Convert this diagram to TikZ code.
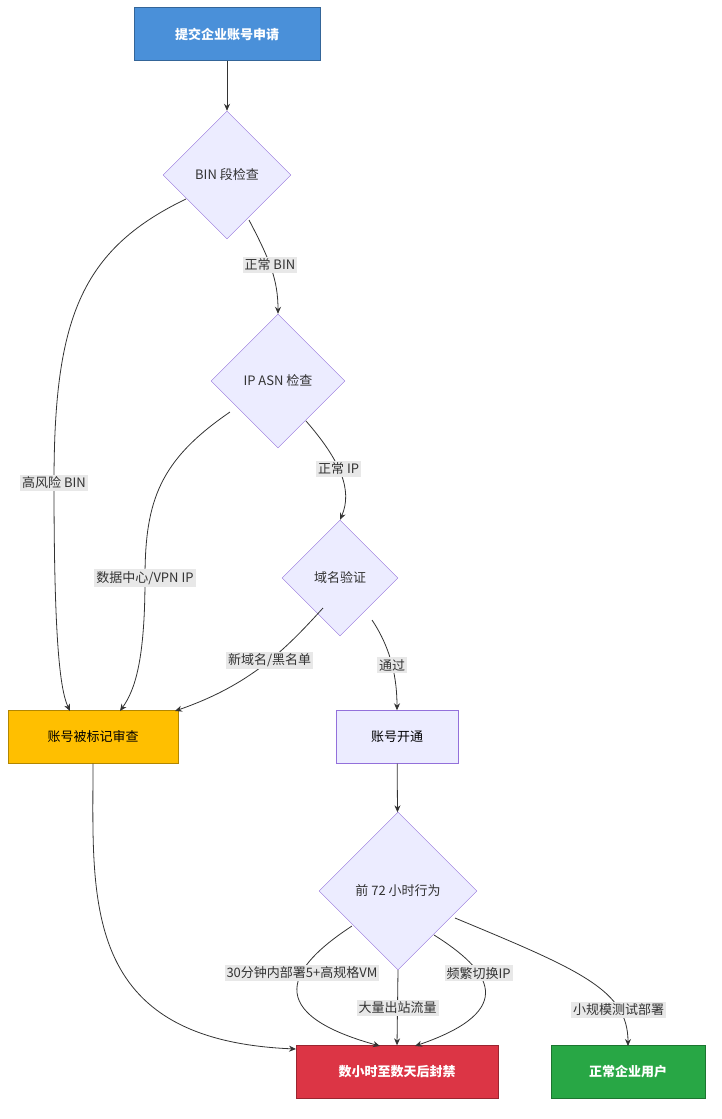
\documentclass[tikz,border=0pt]{standalone}
\usepackage{fontspec}
\setmainfont{Noto Sans CJK SC}
\usetikzlibrary{shapes.geometric,arrows.meta}
\definecolor{dfill}{HTML}{ECECFF}
\definecolor{dline}{HTML}{9370DB}
\begin{document}
\begin{tikzpicture}[x=1pt,y=-1pt,
  dia/.style={diamond,aspect=1,draw=dline,fill=dfill,inner sep=0pt,font=\fontsize{13}{15}\selectfont,text=black!80},
  box/.style={rectangle,draw=#1!70!black,fill=#1,minimum height=53pt,font=\fontsize{13}{15}\selectfont},
  lab/.style={fill=black!9,inner sep=2pt,font=\fontsize{13}{15}\selectfont,text=black!80},
  e/.style={draw=black!80,line width=0.8pt,-{Stealth[length=7pt,width=6pt]}}]
\useasboundingbox (0,0) rectangle (721,1119);
\definecolor{cblue}{HTML}{4A90D9}\definecolor{cyel}{HTML}{FFBF00}
\definecolor{cred}{HTML}{DC3545}\definecolor{cgreen}{HTML}{28A745}
\node[box=cblue,minimum width=186pt,text=white,font=\bfseries\fontsize{13}{15}\selectfont] (A) at (227,34) {提交企业账号申请};
\node[dia,minimum width=128pt,minimum height=128pt] (D1) at (227,175) {BIN 段检查};
\node[dia,minimum width=134pt,minimum height=134pt] (D2) at (278,381) {IP ASN 检查};
\node[dia,minimum width=116pt,minimum height=116pt] (D3) at (340,578) {域名验证};
\node[box=cyel,minimum width=170pt] (F) at (93,737) {账号被标记审查};
\node[rectangle,draw=dline,fill=dfill,minimum width=122pt,minimum height=53pt,font=\fontsize{13}{15}\selectfont] (O) at (397,737) {账号开通};
\node[dia,minimum width=158pt,minimum height=158pt] (D4) at (398,891) {前 72 小时行为};
\node[box=cred,minimum width=202pt,text=white,font=\bfseries\fontsize{13}{15}\selectfont] (B) at (397,1072) {数小时至数天后封禁};
\node[box=cgreen,minimum width=154pt,text=white,font=\bfseries\fontsize{13}{15}\selectfont] (N) at (628,1072) {正常企业用户};
\coordinate (p1) at (249,220); \coordinate (p2) at (186,199);
\draw[e] (A) -- (D1);
\draw[e] (p1) .. controls (270,260) and (278,280) .. (D2.north) node[lab,pos=0.45] {正常 BIN};
\draw[e] (p2) .. controls (80,250) and (54,320) .. (54,483) node[lab] {高风险 BIN} .. controls (54,640) and (60,690) .. (70,711);
\coordinate (q1) at (306,421); \coordinate (q2) at (230,412);
\draw[e] (q1) .. controls (340,460) and (353,490) .. (D3.north) node[lab,pos=0.45] {正常 IP};
\draw[e] (q2) .. controls (160,460) and (145,500) .. (145,578) node[lab] {数据中心/VPN IP} .. controls (145,660) and (135,690) .. (120,711);
\coordinate (r1) at (372,620); \coordinate (r2) at (323,608);
\draw[e] (r1) .. controls (392,650) and (397,680) .. (O.north) node[lab,pos=0.5] {通过};
\draw[e] (r2) .. controls (285,650) and (250,685) .. (175,711) node[lab,pos=0.45] {新域名/黑名单};
\draw[e] (O) -- (D4);
\draw[e] (F.south) .. controls (93,900) and (80,1040) .. (296,1049);
\coordinate (s1) at (352,926); \coordinate (s2) at (434,935); \coordinate (s3) at (455,918);
\draw[e] (s1) .. controls (300,960) and (250,1010) .. (380,1046) node[lab,pos=0.4] {30分钟内部署5+高规格VM};
\draw[e] (D4.south) -- (B.north) node[lab,pos=0.5] {大量出站流量};
\draw[e] (s2) .. controls (490,970) and (520,1010) .. (415,1046) node[lab,pos=0.35] {频繁切换IP};
\draw[e] (s3) .. controls (580,970) and (628,990) .. (628,1046) node[lab,pos=0.75] {小规模测试部署};
\end{tikzpicture}
\end{document}
